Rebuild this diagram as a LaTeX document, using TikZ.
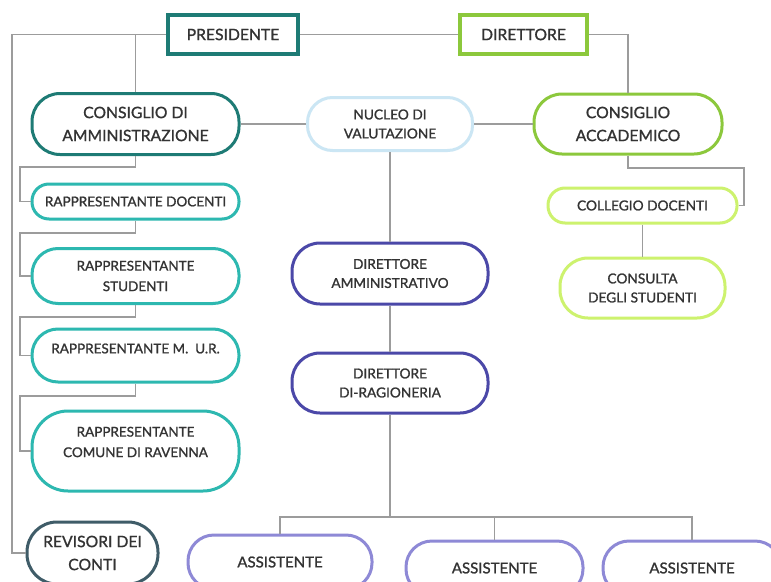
\documentclass[tikz,border=0pt]{standalone}
\usepackage{fontspec}
\setmainfont{Lato}[FakeBold=1.2,AutoFakeBold=1.2]
\definecolor{cteal}{HTML}{1E7B75}
\definecolor{cgreen}{HTML}{8CC83C}
\definecolor{clblue}{HTML}{CBE6F4}
\definecolor{cturq}{HTML}{2DB8B0}
\definecolor{cindigo}{HTML}{4B48A8}
\definecolor{clime}{HTML}{CDF26E}
\definecolor{cslate}{HTML}{3F5C68}
\definecolor{clav}{HTML}{8E89D6}
\definecolor{cline}{HTML}{9C9C9C}
\definecolor{txt}{HTML}{333333}
\begin{document}
\begin{tikzpicture}[x=1pt,y=-1pt,
  box/.style={draw, line width=3pt, fill=white, align=center, inner sep=0pt, text=txt},
  big/.style={font=\fontsize{15.7}{23}\bfseries},
  med/.style={font=\fontsize{13.7}{19}\bfseries},
  sml/.style={font=\fontsize{13.5}{20.5}\bfseries},
  ast/.style={font=\fontsize{15}{16}\bfseries},
  lbl/.style={sml, text=txt, align=center, inner sep=0pt},
  pill/.style={box, rounded corners=#1},
  conn/.style={draw=cline, line width=1.3pt}]
\useasboundingbox (0,0) rectangle (771,581);
\clip (0,0) rectangle (771,581);
\fill[white] (0,0) rectangle (771,581);

% top row
\node[box, big, draw=cteal, line width=3.5pt, minimum width=130pt, minimum height=39pt] (pres) at (233,34.5) {PRESIDENTE};
\node[box, big, draw=cgreen, line width=3.5pt, minimum width=127pt, minimum height=39pt] (dir) at (523.5,34.5) {DIRETTORE};

% second row
\node[pill=28pt, big, draw=cteal, minimum width=207pt, minimum height=61pt] (cda) at (135.5,124) {CONSIGLIO DI\\AMMINISTRAZIONE};
\node[pill=25pt, med, draw=clblue, minimum width=165pt, minimum height=53pt] (nuc) at (390,124) {NUCLEO DI\\VALUTAZIONE};
\node[pill=28pt, big, draw=cgreen, minimum width=188pt, minimum height=60pt] (ca) at (628,124) {CONSIGLIO\\ACCADEMICO};

% right column
\node[pill=17pt, med, draw=clime, minimum width=189pt, minimum height=35pt] (col) at (642.5,205.5) {COLLEGIO DOCENTI};
\node[pill=28pt, med, draw=clime, minimum width=165pt, minimum height=60pt] (cons) at (642.5,288) {CONSULTA\\DEGLI STUDENTI};

% centre column
\node[pill=28pt, med, draw=cindigo, minimum width=196pt, minimum height=61pt] (damm) at (390,273.5) {DIRETTORE\\AMMINISTRATIVO};
\node[pill=28pt, med, draw=cindigo, minimum width=196pt, minimum height=60pt] (drag) at (390,383) {DIRETTORE\\DI-RAGIONERIA};

% left column
\node[pill=17pt, sml, draw=cturq, minimum width=207pt, minimum height=35pt] (rd) at (135.5,201.5) {RAPPRESENTANTE DOCENTI};
\node[pill=26pt, sml, draw=cturq, minimum width=207pt, minimum height=55pt] (rs) at (135.5,276) {RAPPRESENTANTE\\STUDENTI};
\node[pill=26pt, draw=cturq, minimum width=207pt, minimum height=53pt,
      label={[lbl, yshift=7pt]center:{RAPPRESENTANTE M.\ \ U.R.}}] (rm) at (135.5,355.5) {};
\node[pill=36pt, draw=cturq, minimum width=207pt, minimum height=80pt,
      label={[lbl, yshift=9pt]center:{RAPPRESENTANTE\\COMUNE DI RAVENNA}}] (rc) at (135.5,451) {};
\node[pill=30pt, big, draw=cslate, minimum width=131pt, minimum height=62pt] (rev) at (92.5,553) {REVISORI DEI\\CONTI};

% assistants
\node[pill=26pt, ast, draw=clav, minimum width=184pt, minimum height=54pt] (a1) at (280,562) {ASSISTENTE};
\node[pill=26pt, ast, draw=clav, minimum width=177pt, minimum height=54pt] (a2) at (494.5,568) {ASSISTENTE};
\node[pill=26pt, ast, draw=clav, minimum width=178pt, minimum height=54pt] (a3) at (692,568) {ASSISTENTE};

% bend points
\coordinate (L) at (12,34.5);
\coordinate (cr) at (744,168);
\coordinate (b1) at (20,167);
\coordinate (b2) at (20,233);
\coordinate (b3) at (20,317);
\coordinate (b4) at (20,396);
\coordinate (aj) at (390,517);

% connectors
\draw[conn] (pres.west) -- (L) |- (rev.west);
\draw[conn] (pres.east) -- (dir.west);
\draw[conn] (cda.north |- pres.west) -- (cda.north);
\draw[conn] (dir.east) -| (ca.north);
\draw[conn] (cda.east) -- (nuc.west);
\draw[conn] (nuc.east) -- (ca.west);
\draw[conn] (ca.south) |- (cr) |- (col.east);
\draw[conn] (col.south) -- (cons.north);
\draw[conn] (nuc.south) -- (damm.north);
\draw[conn] (damm.south) -- (drag.north);
\draw[conn] (drag.south) -- (aj);
\draw[conn] (a1.north) |- (aj) -| (a3.north);
\draw[conn] (a2.north |- aj) -- (a2.north);
\draw[conn] (cda.south) |- (b1) |- (rd.west);
\draw[conn] (rd.south) |- (b2) |- (rs.west);
\draw[conn] (rs.south) |- (b3) |- (rm.west);
\draw[conn] (rm.south) |- (b4) |- (rc.west);
\end{tikzpicture}
\end{document}
